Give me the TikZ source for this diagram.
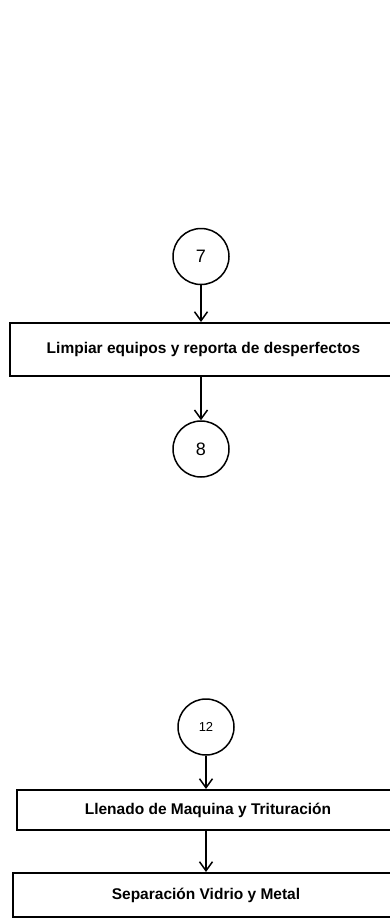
\documentclass[tikz,border=0pt]{standalone}
\usepackage{fontspec}
\setmainfont{Liberation Sans}
\usetikzlibrary{arrows.meta, positioning}

\begin{document}
\begin{tikzpicture}[x=1pt, y=-1pt,
    paso/.style={rectangle, draw, line width=2pt, inner sep=0pt,
                 align=center, font=\fontsize{15.5}{18}\selectfont\bfseries},
    conector/.style={circle, draw, line width=1.5pt, minimum size=56pt,
                 inner sep=0pt, font=\fontsize{18}{20}\selectfont},
    flecha/.style={-{Straight Barb[length=9pt, width=13pt, line width=1.5pt]}, line width=1.5pt}]

    \useasboundingbox (0, 0) rectangle (389, 919);

    \node[conector] (c7) at (201, 256.5) {7};
    \node[paso, minimum width=387pt, minimum height=53pt] (limpiar) at (203.5, 349.5) {Limpiar equipos y reporta de desperfectos};
    \node[conector] (c8) at (201, 449) {8};

    \node[conector, font=\fontsize{13}{15}\selectfont] (c12) at (206, 727) {12};
    \node[paso, minimum width=382pt, minimum height=40pt] (llenado) at (208, 810) {Llenado de Maquina y Trituración};
    \node[paso, minimum width=386pt, minimum height=44pt] (separacion) at (206, 895) {Separación Vidrio y Metal};

    \draw[flecha] (c7) -- (c7 |- limpiar.north);
    \draw[flecha] (c7 |- limpiar.south) -- (c8);
    \draw[flecha] (c12) -- (c12 |- llenado.north);
    \draw[flecha] (c12 |- llenado.south) -- (c12 |- separacion.north);
\end{tikzpicture}
\end{document}
